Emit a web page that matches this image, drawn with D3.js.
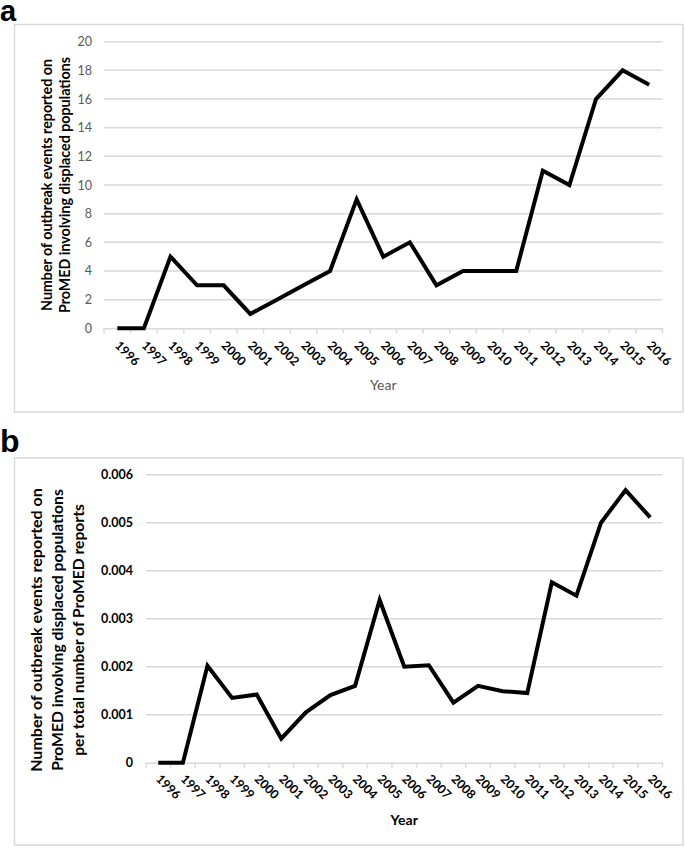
<!DOCTYPE html>
<html>
<head>
<meta charset="utf-8">
<script src="https://cdn.jsdelivr.net/npm/d3@7"></script>
<style>
  html, body { margin: 0; padding: 0; background: #fff; }
  svg { display: block; }
</style>
</head>
<body>
<svg id="chart" width="685" height="848"></svg>
<script>
// ---------- data ----------
const years = ["1996","1997","1998","1999","2000","2001","2002","2003","2004","2005","2006",
               "2007","2008","2009","2010","2011","2012","2013","2014","2015","2016"];
const outbreakCounts = [0,0,5,3,3,1,2,3,4,9,5,6,3,4,4,4,11,10,16,18,17];
const outbreakRates = [0,0,0.00202,0.00135,0.00142,0.0005,0.00105,0.00141,0.0016,0.00339,0.002,
                       0.00203,0.00125,0.0016,0.00149,0.00145,0.00376,0.00348,0.005,0.00568,0.00511];
const countTicks = [0,2,4,6,8,10,12,14,16,18,20];
const rateTicks = [0,0.001,0.002,0.003,0.004,0.005,0.006];
const rateTickLabels = ["0","0.001","0.002","0.003","0.004","0.005","0.006"];
const titleA = ["Number of outbreak events reported on", "ProMED involving displaced populations"];
const titleB = ["Number of outbreak events reported on", "ProMED involving displaced populations",
                "per total number of ProMED reports"];
const xTitle = "Year";

// ---------- drawing ----------
const svg = d3.select("#chart");
const FONT = "Lato, 'Open Sans', sans-serif";
const GRID = "#d9d9d9";

function fitText(sel, target) {
  sel.each(function() {
    const fs = parseFloat(this.getAttribute("font-size"));
    const w = this.getComputedTextLength();
    if (w > 0) this.setAttribute("font-size", (fs * target / w).toFixed(2));
  });
}

function panel(cfg) {
  const g = svg.append("g");
  // border
  g.append("rect").attr("x", cfg.box[0]).attr("y", cfg.box[1])
    .attr("width", cfg.box[2] - cfg.box[0]).attr("height", cfg.box[3] - cfg.box[1])
    .attr("fill", "none").attr("stroke", GRID).attr("stroke-width", 1.5);
  // panel letter
  g.append("text").attr("x", 0).attr("y", cfg.letterY).text(cfg.letter)
    .attr("font-family", "'Liberation Sans', Arial, sans-serif").attr("font-weight", "bold")
    .attr("font-size", cfg.letterSize).attr("fill", "#000");

  const x = d3.scaleBand().domain(years).range([cfg.left, cfg.right]);
  const y = d3.scaleLinear().domain([0, cfg.max]).range([cfg.bottom, cfg.top]);

  // gridlines
  g.append("g").selectAll("line").data(cfg.ticks.slice(1)).join("line")
    .attr("x1", cfg.left).attr("x2", cfg.right)
    .attr("y1", d => y(d)).attr("y2", d => y(d))
    .attr("stroke", GRID).attr("stroke-width", 1.5);

  // y axis labels
  const yAxis = d3.axisLeft(y).tickValues(cfg.ticks).tickSize(0).tickPadding(0)
    .tickFormat((d, i) => cfg.tickLabels[i]);
  const ya = g.append("g").attr("transform", `translate(${cfg.yLabelX},0)`).call(yAxis);
  ya.select(".domain").remove();
  ya.selectAll("text").attr("font-family", FONT).attr("font-size", 12.5)
    .attr("font-weight", cfg.yBold ? "bold" : "normal").attr("fill", cfg.yColor);

  // x axis
  const xAxis = d3.axisBottom(x).tickSize(0).tickFormat(d => d);
  const xa = g.append("g").attr("transform", `translate(0,${cfg.bottom})`).call(xAxis);
  xa.select(".domain").attr("stroke", GRID).attr("stroke-width", 1.5);
  // tick marks at band boundaries
  const bounds = years.map(d => x(d)).concat([cfg.right]);
  xa.append("g").selectAll("line").data(bounds).join("line")
    .attr("x1", d => d).attr("x2", d => d).attr("y1", 0).attr("y2", 5)
    .attr("stroke", GRID).attr("stroke-width", 1.5);
  xa.selectAll(".tick text")
    .attr("font-family", FONT).attr("font-size", 12.3).attr("font-weight", "bold").attr("fill", "#000")
    .attr("text-anchor", "start").attr("dy", null).attr("y", 0).attr("x", 0)
    .attr("transform", `translate(-3,${cfg.xLabelDy}) rotate(45)`);

  // line
  const line = d3.line().x((d, i) => x(years[i]) + x.bandwidth() / 2).y(d => y(d));
  g.append("path").datum(cfg.values).attr("d", line)
    .attr("fill", "none").attr("stroke", "#000").attr("stroke-width", 4)
    .attr("stroke-linejoin", "miter").attr("stroke-linecap", "butt");

  // y title
  const tg = g.append("g");
  cfg.title.forEach((t, i) => {
    const tx = cfg.titleX[i];
    const el = tg.append("text").text(t)
      .attr("transform", `translate(${tx},${cfg.titleCY}) rotate(-90)`)
      .attr("text-anchor", "middle").attr("font-family", FONT).attr("font-weight", "bold")
      .attr("font-size", 14).attr("fill", "#000");
    fitText(el, cfg.titleW[i]);
  });

  // x title
  g.append("text").text(xTitle).attr("x", (cfg.left + cfg.right) / 2).attr("y", cfg.xTitleY)
    .attr("text-anchor", "middle").attr("font-family", FONT).attr("font-size", 14)
    .attr("font-weight", cfg.yBold ? "bold" : "normal").attr("fill", cfg.yColor);
}

panel({
  letter: "a", letterY: 21, letterSize: 29, box: [14.5, 24.5, 683, 412],
  left: 104, right: 662.5, top: 41.7, bottom: 328.3, max: 20,
  ticks: countTicks, tickLabels: countTicks.map(String), values: outbreakCounts,
  yLabelX: 92, yBold: false, yColor: "#595959", xLabelDy: 18,
  title: titleA, titleX: [52, 70], titleCY: 185, titleW: [252, 256],
  xTitleY: 390
});

panel({
  letter: "b", letterY: 452, letterSize: 32, box: [14.5, 458, 683, 845],
  left: 146, right: 662.5, top: 474.7, bottom: 762.7, max: 0.006,
  ticks: rateTicks, tickLabels: rateTickLabels, values: outbreakRates,
  yLabelX: 133, yBold: true, yColor: "#000", xLabelDy: 17,
  title: titleB, titleX: [42, 63, 84], titleCY: 630, titleW: [284, 282, 252],
  xTitleY: 825
});
</script>
</body>
</html>
